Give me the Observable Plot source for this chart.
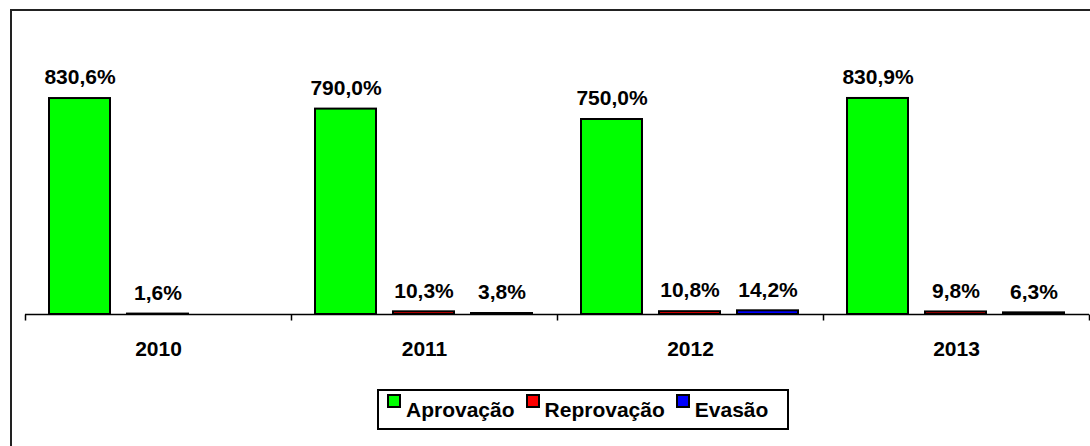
<!DOCTYPE html>
<html>
<head>
<meta charset="utf-8">
<script src="https://cdn.jsdelivr.net/npm/d3@7"></script>
<script src="https://cdn.jsdelivr.net/npm/@observablehq/plot@0.6"></script>
<style>
  html, body { margin: 0; padding: 0; background: #fff; }
  body { width: 1090px; height: 446px; overflow: hidden; position: relative; font-family: Arial, "Liberation Sans", sans-serif; }
  #frame { position: absolute; left: 10px; top: 9px; width: 1200px; height: 600px; border: 2px solid #222; box-sizing: border-box; }
  #chart { position: absolute; left: 0; top: 0; }
  #legend { position: absolute; left: 377px; top: 389px; width: 412px; height: 41px; box-sizing: border-box; border: 2px solid #000;
            display: flex; align-items: center; padding-left: 8px; font-size: 21px; font-weight: bold; color: #000; background: #fff; white-space: nowrap; }
  .item { display: inline-flex; align-items: center; margin-right: 11px; }
  .sw { width: 14px; height: 14px; box-sizing: border-box; border: 2px solid #000; position: relative; top: -9px; margin-right: 5px; }
</style>
</head>
<body>
<div id="frame"></div>
<div id="chart"></div>
<div id="legend"></div>
<script>
const years = ["2010", "2011", "2012", "2013"];
const series = ["Aprovação", "Reprovação", "Evasão"];
const seriesColors = ["#00ff00", "#ff0000", "#0000ff"];
const aprovacao = [830.6, 790.0, 750.0, 830.9];
const reprovacao = [1.6, 10.3, 10.8, 9.8];
const evasao = [null, 3.8, 14.2, 6.3];

const values = [aprovacao, reprovacao, evasao];
const rows = [];
years.forEach((y, i) => {
  series.forEach((s, j) => {
    const v = values[j][i];
    if (v != null) rows.push({year: y, series: s, value: v});
  });
});

const fmt = v => v.toFixed(1).replace(".", ",") + "%";

const tickSymbol = {
  draw(context, size) {
    const l = Math.sqrt(size);
    context.moveTo(0, 0);
    context.lineTo(0, l);
  }
};

const chart = Plot.plot({
  width: 1090,
  height: 380,
  marginLeft: 23,
  marginRight: 0,
  marginTop: 80,
  marginBottom: 66,
  fx: {domain: years, padding: 0, label: null, axis: "bottom", tickSize: 0, tickPadding: 27},
  x: {domain: series, paddingInner: 0.215, paddingOuter: 0.30, axis: null},
  y: {domain: [0, 900], axis: null},
  color: {domain: series, range: seriesColors},
  style: {fontFamily: "Arial, 'Liberation Sans', sans-serif", fontSize: "21px", fontWeight: "bold", color: "#000", background: "transparent", overflow: "visible"},
  marks: [
    Plot.ruleY([0], {stroke: "#000", strokeWidth: 1.5}),
    Plot.barY(rows, {fx: "year", x: "series", y: "value", fill: "series", stroke: "#000", strokeWidth: 2}),
    Plot.text(rows, {fx: "year", x: "series", y: "value", text: d => fmt(d.value), dy: -21, fill: "#000", fontSize: 21, fontWeight: "bold"}),
    Plot.dot(years, {fx: d => d, frameAnchor: "bottom-left", symbol: tickSymbol, r: 3.4, stroke: "#000", strokeWidth: 1.5, fill: "none"}),
    Plot.dot(years.slice(-1), {fx: d => d, frameAnchor: "bottom-right", symbol: tickSymbol, r: 3.4, stroke: "#000", strokeWidth: 1.5, fill: "none"})
  ]
});
document.getElementById("chart").appendChild(chart);

const colorScale = chart.scale("color");
const legend = document.getElementById("legend");
series.forEach(s => {
  const item = document.createElement("span");
  item.className = "item";
  const sw = document.createElement("span");
  sw.className = "sw";
  sw.style.background = colorScale.apply(s);
  const label = document.createElement("span");
  label.textContent = s;
  item.appendChild(sw);
  item.appendChild(label);
  legend.appendChild(item);
});
</script>
</body>
</html>
